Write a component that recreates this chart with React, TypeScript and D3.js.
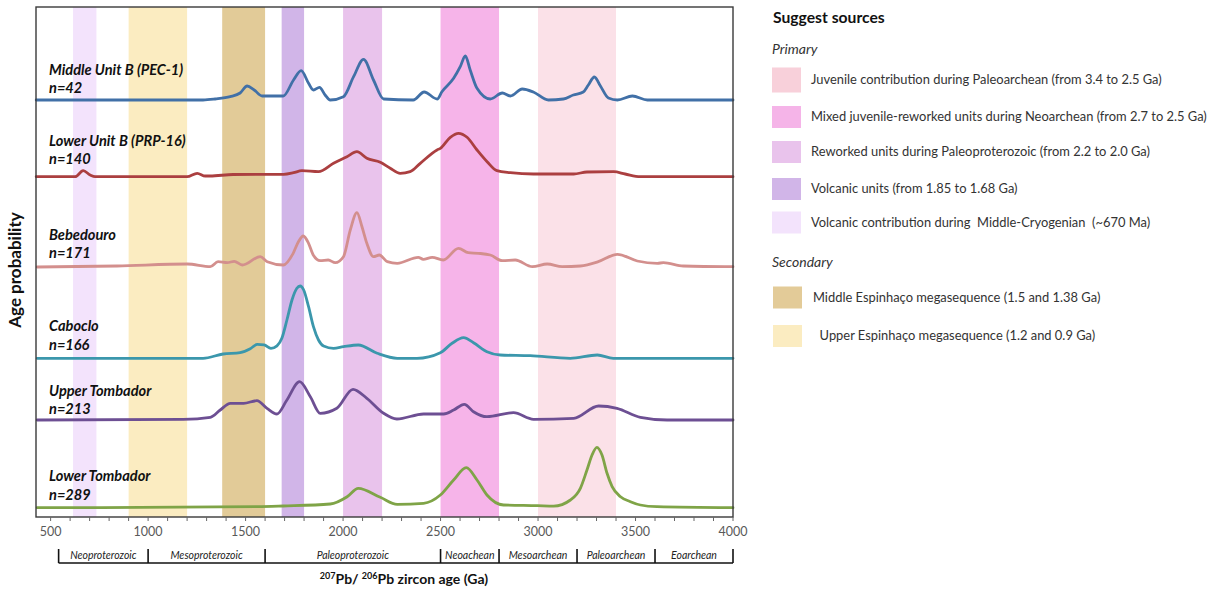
import React from "react";
import * as d3 from "d3";

// ---- Age axis ----
const AGE_DOMAIN: [number, number] = [425, 4000];
const AGE_TICKS = [500, 1000, 1500, 2000, 2500, 3000, 3500, 4000];
const AGE_MINOR_STEP = 100;

// ---- Geological eras (Ma) ----
const ERA_NAMES = ["Neoproterozoic", "Mesoproterozoic", "Paleoproterozoic", "Neoachean", "Mesoarchean", "Paleoarchean", "Eoarchean"];
const ERA_BOUNDS = [541, 1000, 1600, 2500, 2800, 3200, 3600, 4000];

// ---- Samples ----
const SAMPLE_NAMES = ["Middle Unit B (PEC-1)", "Lower Unit B (PRP-16)", "Bebedouro", "Caboclo", "Upper Tombador", "Lower Tombador"];
const SAMPLE_N = [42, 140, 171, 166, 213, 289];
const SAMPLE_COLORS = ["#4170a7", "#ab3f40", "#d38f8d", "#3b97ac", "#6d4f93", "#7fa447"];

// Relative age probability curves: [age (Ma), probability]
const MIDDLE_UNIT_B: [number, number][] = [
  [426, 0], [1282, 0], [1344, 0.2], [1421, 0.66], [1472, 1.4], [1508, 2.8], [1544, 2.0], [1585, 0.8],
  [1693, 0.8], [1746, 4.0], [1785, 5.86], [1823, 3.34], [1848, 2.0], [1879, 2.54], [1908, 1.0], [1934, 0],
  [2002, 0.66], [2054, 4.66], [2105, 8.14], [2156, 4.0], [2208, 0.2], [2360, 0], [2416, 1.6], [2483, 0.2],
  [2507, 1.66], [2567, 4.34], [2601, 6.66], [2627, 8.8], [2652, 6.0], [2687, 2.34], [2755, 0.2], [2817, 1.4],
  [2858, 0.8], [2919, 2.2], [2976, 1.6], [3053, 0], [3130, 0.2], [3181, 1.0], [3232, 1.6], [3258, 3.0],
  [3289, 4.6], [3320, 2.8], [3361, 0.4], [3407, 0], [3484, 0.8], [3561, 0], [4000, 0],
];
const LOWER_UNIT_B: [number, number][] = [
  [426, 0], [626, 0], [667, 1.2], [703, 0.34], [728, 0], [1200, 0], [1252, 0.68], [1293, 0.14], [1318, 0.14],
  [1436, 0.44], [1695, 0.48], [1746, 0.8], [1789, 1.2], [1874, 1.0], [1951, 2.68], [2020, 4.0], [2071, 5.0],
  [2122, 3.68], [2191, 2.88], [2242, 1.68], [2293, 0.68], [2344, 1.0], [2396, 2.68], [2482, 5.34], [2499, 5.68],
  [2550, 7.88], [2592, 8.68], [2636, 7.88], [2687, 5.34], [2740, 2.94], [2789, 1.2], [2858, 0.8], [2977, 0.54],
  [3183, 0.54], [3251, 0.94], [3388, 1.0], [3447, 0.54], [3524, 0], [4000, 0],
];
const BEBEDOURO: [number, number][] = [
  [431, 0], [841, 0.2], [1201, 0.6], [1319, 0.06], [1359, 1.06], [1406, 0.86], [1442, 1.14], [1483, 0.4],
  [1575, 2.06], [1611, 1.06], [1694, 0.4], [1744, 2.74], [1771, 5.06], [1796, 6.2], [1823, 4.74], [1847, 2.4],
  [1883, 1.26], [1924, 1.4], [1960, 0.86], [2002, 2.06], [2037, 7.4], [2071, 10.86], [2097, 8.06], [2122, 4.74],
  [2156, 2.06], [2186, 2.4], [2227, 1.06], [2278, 0.74], [2386, 1.94], [2411, 1.54], [2457, 1.94], [2514, 1.4],
  [2592, 3.74], [2642, 2.86], [2694, 2.74], [2755, 2.4], [2817, 1.26], [2883, 1.4], [2971, 0.06], [3047, 0.6],
  [3124, 0.06], [3217, 0.2], [3309, 1.06], [3407, 2.54], [3509, 1.2], [3612, 0.74], [3643, 0.86], [3745, 0.2],
  [4000, 0.06],
];
const CABOCLO: [number, number][] = [
  [431, 0], [1282, 0], [1385, 0.86], [1472, 1.12], [1524, 1.9], [1560, 2.8], [1595, 2.7], [1630, 2.0],
  [1661, 2.5], [1686, 4.0], [1712, 7.66], [1738, 11.66], [1763, 14.0], [1780, 14.46], [1798, 13.66],
  [1823, 10.32], [1848, 6.32], [1874, 3.66], [1900, 2.46], [1951, 2.0], [2002, 2.32], [2078, 2.66], [2175, 1.0],
  [2278, 0], [2379, 0], [2499, 1.12], [2559, 3.0], [2618, 4.12], [2669, 3.12], [2738, 1.32], [2806, 0.66],
  [2960, 0.52], [3165, 0], [3304, 0.66], [3386, 0], [4000, 0],
];
const UPPER_TOMBADOR: [number, number][] = [
  [431, 0], [1180, 0.14], [1319, 0.54], [1370, 2.0], [1422, 3.34], [1490, 3.34], [1558, 3.86], [1610, 2.34],
  [1661, 1.2], [1712, 4.0], [1777, 7.66], [1832, 4.66], [1883, 1.34], [1968, 2.34], [2051, 6.14], [2122, 4.34],
  [2208, 1.34], [2276, 0.2], [2413, 1.2], [2516, 1.2], [2567, 2.0], [2622, 3.14], [2669, 1.66], [2738, 0.66],
  [2874, 1.46], [2977, 0.14], [3183, 0.34], [3311, 2.8], [3405, 2.34], [3525, 0.54], [3662, 0], [4000, 0],
];
const LOWER_TOMBADOR: [number, number][] = [
  [431, 0], [1560, 0.2], [1693, 0.34], [1934, 0.74], [2021, 2.2], [2078, 3.88], [2191, 2.08], [2278, 0.68],
  [2413, 0.88], [2499, 2.54], [2567, 5.54], [2632, 8.0], [2687, 5.54], [2738, 2.54], [2823, 0.54], [2996, 0.4],
  [3080, 0.3], [3166, 1.54], [3217, 3.88], [3251, 7.54], [3277, 10.54], [3302, 12.08], [3328, 10.54],
  [3354, 6.88], [3380, 4.2], [3423, 2.2], [3474, 1.2], [3525, 0.54], [3610, 0.2], [4000, 0],
];
const SAMPLE_CURVES = [MIDDLE_UNIT_B, LOWER_UNIT_B, BEBEDOURO, CABOCLO, UPPER_TOMBADOR, LOWER_TOMBADOR];

// ---- Suggested sources ----
const SOURCE_NAMES = [
  "Juvenile contribution during Paleoarchean (from 3.4 to 2.5 Ga)",
  "Mixed juvenile-reworked units during Neoarchean (from 2.7 to 2.5 Ga)",
  "Reworked units during Paleoproterozoic (from 2.2 to 2.0 Ga)",
  "Volcanic units (from 1.85 to 1.68 Ga)",
  "Volcanic contribution during  Middle-Cryogenian  (~670 Ma)",
  "Middle Espinhaço megasequence (1.5 and 1.38 Ga)",
  "  Upper Espinhaço megasequence (1.2 and 0.9 Ga)",
];
const SOURCE_GROUPS = ["Primary", "Primary", "Primary", "Primary", "Primary", "Secondary", "Secondary"];
const SOURCE_START = [3000, 2500, 2000, 1685, 615, 1380, 900];
const SOURCE_END = [3400, 2800, 2200, 1800, 735, 1600, 1200];
const SOURCE_SWATCH = ["#f8d0da", "#f5b4e8", "#e9c3ec", "#d1b5e8", "#f3e3fc", "#e3cb98", "#fbecc1"];
const SOURCE_BAND = ["#fbe1e8", "#f6b4e9", "#e9c3ec", "#d1b5e8", "#f3e3fc", "#e2cb98", "#fbecc1"];

const FONT = "Lato, 'Open Sans', sans-serif";

export default function App() {
  const W = 1221;
  const H = 592;
  const plot = { left: 36, right: 733, top: 7, bottom: 517 };

  const x = d3.scaleLinear().domain(AGE_DOMAIN).range([plot.left, plot.right]);
  const y = d3.scaleLinear().domain([0, 102]).range([plot.bottom, plot.top]);

  // vertical stacking of the sample curves (probability units)
  const rowOffsets = [83.4, 68.06, 50, 31.74, 19.4, 1.86];
  const labelBaselines = [[75, 93], [146, 163.5], [239.5, 258], [331, 349.5], [396, 414], [481, 499.5]];

  const minorTicks = d3.range(AGE_TICKS[0], AGE_DOMAIN[1] + 1, AGE_MINOR_STEP);

  const eraLineY = 563;
  const eraTickTop = 549;

  // legend layout
  const lgX = 772;
  const swW = 29;
  const primaryRows = [80, 117, 152, 189, 222.5];
  const secondaryRows = [297.5, 336];
  let pi = 0;
  let si = 0;

  return (
    <svg
      width={W}
      height={H}
      style={{ position: "absolute", left: 0, top: 0, background: "#fff" }}
      fontFamily={FONT}
    >
      <rect x={0} y={0} width={W} height={H} fill="#fff" />

      {/* source bands */}
      {SOURCE_NAMES.map((_, i) => (
        <rect
          key={"band" + i}
          x={x(SOURCE_START[i])}
          y={plot.top}
          width={x(SOURCE_END[i]) - x(SOURCE_START[i])}
          height={plot.bottom - plot.top}
          fill={SOURCE_BAND[i]}
        />
      ))}

      {/* probability curves */}
      {SAMPLE_CURVES.map((pts, i) => {
        const off = rowOffsets[i];
        const path = d3
          .line<[number, number]>()
          .x((d) => x(d[0]))
          .y((d) => y(d[1] + off))
          .curve(d3.curveMonotoneX)(pts);
        return (
          <path
            key={"curve" + i}
            d={path || ""}
            fill="none"
            stroke={SAMPLE_COLORS[i]}
            strokeWidth={2.8}
            strokeLinejoin="round"
            strokeLinecap="round"
          />
        );
      })}

      {/* sample labels */}
      {SAMPLE_NAMES.map((name, i) => (
        <g key={"lab" + i} fontWeight="bold" fontStyle="italic" fontSize={14.6} fill="#111">
          <text x={49} y={labelBaselines[i][0]}>{name}</text>
          <text x={49} y={labelBaselines[i][1]}>{"n=" + SAMPLE_N[i]}</text>
        </g>
      ))}

      {/* frame */}
      <rect
        x={plot.left}
        y={plot.top}
        width={plot.right - plot.left}
        height={plot.bottom - plot.top}
        fill="none"
        stroke="#3a3a3a"
        strokeWidth={1.4}
      />

      {/* age axis ticks */}
      {minorTicks.map((t) => (
        <line key={"mt" + t} x1={x(t)} x2={x(t)} y1={plot.bottom} y2={plot.bottom + 4} stroke="#666" strokeWidth={1} />
      ))}
      {AGE_TICKS.map((t) => (
        <text key={"tl" + t} x={x(t)} y={536} textAnchor="middle" fontSize={12.5} fill="#595959">
          {t}
        </text>
      ))}

      {/* era brackets */}
      <line x1={x(ERA_BOUNDS[0])} x2={x(ERA_BOUNDS[ERA_BOUNDS.length - 1])} y1={eraLineY} y2={eraLineY} stroke="#111" strokeWidth={1.6} />
      {ERA_BOUNDS.map((b) => (
        <line key={"eb" + b} x1={x(b)} x2={x(b)} y1={eraTickTop} y2={eraLineY} stroke="#111" strokeWidth={1.6} />
      ))}
      {ERA_NAMES.map((n, i) => (
        <text
          key={"era" + n}
          x={(x(ERA_BOUNDS[i]) + x(ERA_BOUNDS[i + 1])) / 2}
          y={559}
          textAnchor="middle"
          fontSize={10.5}
          fontStyle="italic"
          fill="#222"
        >
          {n}
        </text>
      ))}

      {/* axis titles */}
      <text x={404} y={584} textAnchor="middle" fontSize={14} fontWeight="bold" fill="#111">
        <tspan fontSize={9} dy={-5}>207</tspan>
        <tspan dy={5}>Pb/ </tspan>
        <tspan fontSize={9} dy={-5}>206</tspan>
        <tspan dy={5}>Pb zircon age (Ga)</tspan>
      </text>
      <text
        transform="translate(21,270) rotate(-90)"
        textAnchor="middle"
        fontSize={17}
        fontWeight="bold"
        fill="#111"
      >
        Age probability
      </text>

      {/* legend */}
      <text x={lgX + 1} y={23} fontSize={15.7} fontWeight="bold" fill="#111">Suggest sources</text>
      <text x={lgX} y={54} fontSize={14} fontStyle="italic" fill="#333">Primary</text>
      <text x={lgX} y={267} fontSize={14} fontStyle="italic" fill="#333">Secondary</text>
      {SOURCE_NAMES.map((name, i) => {
        const primary = SOURCE_GROUPS[i] === "Primary";
        const cy = primary ? primaryRows[pi++] : secondaryRows[si++];
        const sx = primary ? lgX : lgX + 1;
        const h = i === 0 ? 25 : 22;
        return (
          <g key={"lg" + i}>
            <rect x={sx} y={cy - h / 2} width={swW} height={h} fill={SOURCE_SWATCH[i]} />
            <text
              x={primary ? 811 : 813}
              y={cy + 4}
              fontSize={12.9}
              fill="#333"
              style={{ whiteSpace: "pre" }}
            >
              {name}
            </text>
          </g>
        );
      })}
    </svg>
  );
}
